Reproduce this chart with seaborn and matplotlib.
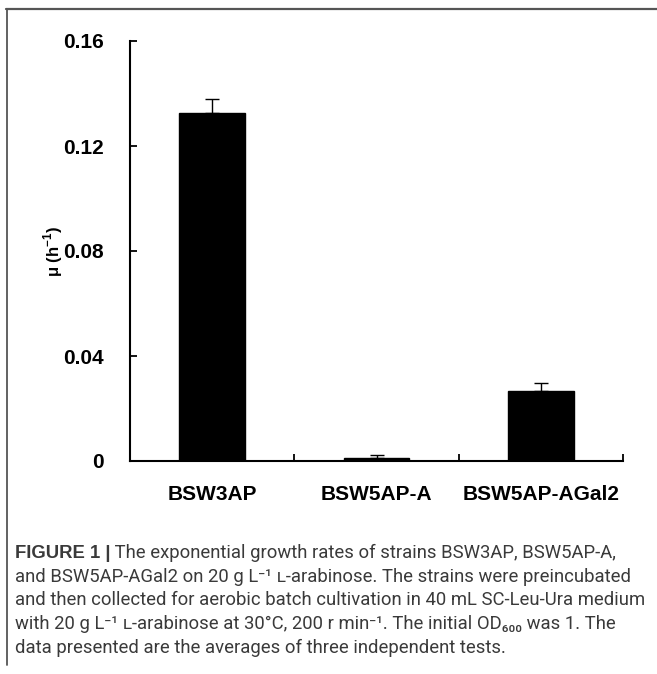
import matplotlib
matplotlib.use("Agg")
import matplotlib.pyplot as plt
from matplotlib.lines import Line2D
from matplotlib import font_manager
import seaborn as sns
import pandas as pd

# Growth-rate data (mean and upper error)
strains = ["BSW3AP", "BSW5AP-A", "BSW5AP-AGal2"]
mu = [0.1325, 0.001, 0.0265]
mu_err = [0.0054, 0.0014, 0.0034]
ytick_values = [0, 0.04, 0.08, 0.12, 0.16]
ytick_labels = ["0", "0.04", "0.08", "0.12", "0.16"]

caption_lines = [
    " The exponential growth rates of strains BSW3AP, BSW5AP-A,",
    "and BSW5AP-AGal2 on 20 g L\u207b\u00b9 \u029f-arabinose. The strains were preincubated",
    "and then collected for aerobic batch cultivation in 40 mL SC-Leu-Ura medium",
    "with 20 g L\u207b\u00b9 \u029f-arabinose at 30\u00b0C, 200 r min\u207b\u00b9. The initial OD\u2086\u2080\u2080 was 1. The",
    "data presented are the averages of three independent tests.",
]

sns.set_theme(style="white")
installed = {f.name for f in font_manager.fontManager.ttflist}
cap_font = "Liberation Sans Narrow" if "Liberation Sans Narrow" in installed else "Roboto"
plt.rcParams["font.family"] = ["Liberation Sans", "DejaVu Sans"]
plt.rcParams["mathtext.fontset"] = "custom"
plt.rcParams["mathtext.rm"] = "Liberation Sans"
plt.rcParams["mathtext.bf"] = "Liberation Sans:bold"

W, H = 657, 674
fig = plt.figure(figsize=(W / 100, H / 100), dpi=100)
fig.patch.set_facecolor("white")

ax = fig.add_axes([130 / W, 1 - 461 / H, (623 - 130) / W, (461 - 41) / H])
df = pd.DataFrame({"strain": strains, "mu": mu})
sns.barplot(data=df, x="strain", y="mu", color="black", width=0.4,
            errorbar=None, ax=ax, saturation=1, edgecolor="black")
ax.errorbar(range(len(strains)), mu, yerr=[[0] * len(mu_err), mu_err],
            fmt="none", ecolor="black", elinewidth=1.0, capsize=5, capthick=1.0)

ax.set_xlim(-0.5, 2.5)
ax.set_ylim(0, 0.16)
ax.set_yticks(ytick_values)
ax.set_yticklabels(ytick_labels)
ax.set_xticks(range(len(strains)))
ax.set_xticklabels(strains)
ax.set_xticks([-0.5, 0.5, 1.5, 2.5], minor=True)
ax.tick_params(axis="x", which="major", length=0, pad=17)
ax.tick_params(axis="x", which="minor", direction="in", length=5, width=1.3,
               color="black", bottom=True)
ax.tick_params(axis="y", which="major", direction="in", length=5, width=1.3,
               color="black", left=True, pad=19)
for lab in ax.get_xticklabels() + ax.get_yticklabels():
    lab.set_fontweight("bold")
    lab.set_fontsize(15)
    lab.set_color("black")

for side in ["top", "right"]:
    ax.spines[side].set_visible(False)
for side in ["left", "bottom"]:
    ax.spines[side].set_color("black")
    ax.spines[side].set_linewidth(1.5)
ax.set_xlabel("")
ax.set_ylabel("\u03bc (h$^{\\mathbf{-1}}$)", fontsize=12, fontweight="bold",
              color="black")
ax.yaxis.set_label_coords((65 - 130) / (623 - 130), 0.5)
ax.grid(False)

# Figure frame: top and left rules
fig.add_artist(Line2D([6 / W, 1], [1 - 8.5 / H, 1 - 8.5 / H],
                      transform=fig.transFigure, color="#555555", lw=1.6))
fig.add_artist(Line2D([7 / W, 7 / W], [1 - 8.5 / H, 1 - 665 / H],
                      transform=fig.transFigure, color="#555555", lw=1.3))

# Caption
cap_color = "#3a3a3a"
cap_size = 13.3
x0 = 15 / W
ys = [553, 577, 600, 624, 648]
head = fig.text(x0, 1 - ys[0] / H, "FIGURE 1 |", fontsize=cap_size,
                fontweight="bold", color=cap_color, va="center",
                family=["Liberation Sans", "DejaVu Sans"])
fig.canvas.draw()
fig.text(head.get_window_extent().x1 / W, 1 - ys[0] / H, caption_lines[0],
         fontsize=cap_size, color=cap_color, va="center",
         family=[cap_font, "DejaVu Sans"])
for y, line in zip(ys[1:], caption_lines[1:]):
    fig.text(x0, 1 - y / H, line, fontsize=cap_size, color=cap_color,
             va="center", family=[cap_font, "DejaVu Sans"])

fig.savefig("out.png", dpi=100, facecolor="white")
